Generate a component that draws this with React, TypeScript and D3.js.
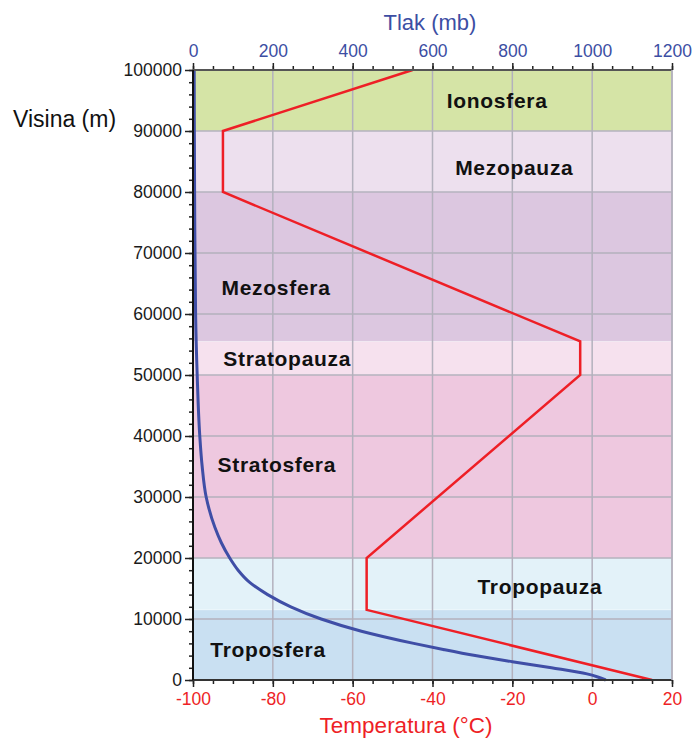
import React, { useEffect, useRef } from "react";
import * as d3 from "d3";

// Temperature profile (°C vs altitude m)
const tempAlt = [0, 11500, 20000, 50000, 55500, 80000, 90000, 100000];
const tempVal = [15, -56.5, -56.5, -3, -3, -92.5, -92.5, -45];

// Pressure profile (mb vs altitude m)
const presAlt = [0, 500, 1000, 2000, 3000, 4000, 5000, 6000, 8000, 10000, 12000, 14000, 16000, 18000, 20000, 22500, 25000, 30000, 35000, 40000, 50000, 60000, 80000, 100000];
const presVal = [1034, 1014, 987, 898, 800, 707, 627, 553, 422, 321, 245, 187, 142, 113, 92, 71, 55, 33, 23, 17, 10.5, 6.5, 4, 3];

// Atmospheric layers
const layerNames = ["Troposfera", "Tropopauza", "Stratosfera", "Stratopauza", "Mezosfera", "Mezopauza", "Ionosfera"];
const layerFrom = [0, 11500, 20000, 50000, 55500, 80000, 90000];
const layerTo = [11500, 20000, 50000, 55500, 80000, 90000, 100000];
const layerColors = ["#c9e0f2", "#e3f2f9", "#eec8df", "#f6e1ee", "#dcc7e0", "#ede0ee", "#d5e4a6"];
const labelTemp = [-81.2, -13.1, -79, -76.4, -79.2, -19.5, -23.8];
const labelAlt = [5000, 15300, 35300, 52750, 64300, 84000, 95000];

const tempTicks = [-100, -80, -60, -40, -20, 0, 20];
const presTicks = [0, 200, 400, 600, 800, 1000, 1200];
const altTicks = [0, 10000, 20000, 30000, 40000, 50000, 60000, 70000, 80000, 90000, 100000];

const BLUE = "#3c4ea3";
const RED = "#ee1f26";
const FONT = "'Liberation Sans', Arial, sans-serif";

export default function App() {
  const ref = useRef<SVGSVGElement>(null);

  useEffect(() => {
    const svg = d3.select(ref.current);
    svg.selectAll("*").remove();

    const L = 193, R = 672, T = 70, B = 680;
    const xT = d3.scaleLinear().domain([-100, 20]).range([L, R]);
    const xP = d3.scaleLinear().domain([0, 1200]).range([L, R]);
    const y = d3.scaleLinear().domain([0, 100000]).range([B, T]);

    // bands
    svg.append("g").selectAll("rect").data(layerNames).join("rect")
      .attr("x", L).attr("width", R - L)
      .attr("y", (_, i) => y(layerTo[i]))
      .attr("height", (_, i) => y(layerFrom[i]) - y(layerTo[i]))
      .attr("fill", (_, i) => layerColors[i]);

    // band boundaries (faint)
    svg.append("g").selectAll("line").data(layerFrom.slice(1)).join("line")
      .attr("x1", L).attr("x2", R)
      .attr("y1", d => y(d)).attr("y2", d => y(d))
      .attr("stroke", "#ffffff").attr("stroke-opacity", 0.35).attr("stroke-width", 1);

    // grid
    const grid = svg.append("g").attr("stroke", "#b3b1bd").attr("stroke-width", 1.5);
    grid.selectAll("line.v").data(tempTicks.slice(1)).join("line").attr("class", "v")
      .attr("x1", d => xT(d)).attr("x2", d => xT(d)).attr("y1", T).attr("y2", B);
    grid.selectAll("line.h").data(altTicks.slice(1, -1)).join("line").attr("class", "h")
      .attr("x1", L).attr("x2", R).attr("y1", d => y(d)).attr("y2", d => y(d));

    // labels
    svg.append("g").selectAll("text").data(layerNames).join("text")
      .attr("x", (_, i) => xT(labelTemp[i]))
      .attr("y", (_, i) => y(labelAlt[i]))
      .attr("dy", "0.36em")
      .attr("text-anchor", "middle")
      .attr("font-family", FONT).attr("font-weight", "bold").attr("font-size", 21)
      .attr("letter-spacing", 0.7)
      .attr("fill", "#111")
      .text(d => d);

    // pressure line
    const pLine = d3.line<number>()
      .x((_, i) => xP(presVal[i]))
      .y(d => y(d))
      .curve(d3.curveMonotoneY);
    svg.append("path").datum(presAlt).attr("d", pLine)
      .attr("fill", "none").attr("stroke", "#3f4ea6").attr("stroke-width", 3);

    // temperature line
    const tLine = d3.line<number>()
      .x((_, i) => xT(tempVal[i]))
      .y(d => y(d));
    svg.append("path").datum(tempAlt).attr("d", tLine)
      .attr("fill", "none").attr("stroke", RED).attr("stroke-width", 2.5)
      .attr("stroke-linejoin", "miter");

    // axes
    const styleAxis = (g: any, color: string) => {
      g.select(".domain").remove();
      g.selectAll("text").attr("font-family", FONT).attr("font-size", 17.5).attr("fill", color);
      g.selectAll("line").attr("stroke", "#222").attr("stroke-width", 1.5);
    };
    const fmt = (d: any) => String(d);

    // minor ticks
    svg.append("g").attr("transform", `translate(${L},0)`)
      .call(d3.axisLeft(y).tickValues(d3.range(0, 100001, 2000)).tickSize(4).tickFormat(() => ""))
      .call((g: any) => styleAxis(g, "#111"));
    svg.append("g").attr("transform", `translate(0,${T})`)
      .call(d3.axisTop(xP).tickValues(d3.range(0, 1201, 50)).tickSize(4).tickFormat(() => ""))
      .call((g: any) => styleAxis(g, BLUE));
    svg.append("g").attr("transform", `translate(0,${B})`)
      .call(d3.axisBottom(xT).tickValues(d3.range(-100, 21, 5)).tickSize(4).tickFormat(() => ""))
      .call((g: any) => styleAxis(g, RED));

    // major ticks
    svg.append("g").attr("transform", `translate(${L},0)`)
      .call(d3.axisLeft(y).tickValues(altTicks).tickSize(8).tickPadding(3).tickFormat(fmt))
      .call((g: any) => styleAxis(g, "#1a1a1a"));
    svg.append("g").attr("transform", `translate(0,${T})`)
      .call(d3.axisTop(xP).tickValues(presTicks).tickSize(7).tickPadding(6).tickFormat(fmt))
      .call((g: any) => styleAxis(g, BLUE));
    svg.append("g").attr("transform", `translate(0,${B})`)
      .call(d3.axisBottom(xT).tickValues(tempTicks).tickSize(7).tickPadding(6).tickFormat(fmt))
      .call((g: any) => styleAxis(g, RED));

    // axis lines
    svg.append("line").attr("x1", L).attr("x2", R).attr("y1", T).attr("y2", T).attr("stroke", "#555").attr("stroke-width", 2);
    svg.append("line").attr("x1", L).attr("x2", R).attr("y1", B).attr("y2", B).attr("stroke", "#333").attr("stroke-width", 2);
    svg.append("line").attr("x1", L).attr("x2", L).attr("y1", T).attr("y2", B).attr("stroke", "#111").attr("stroke-width", 2);
    svg.append("line").attr("x1", R).attr("x2", R).attr("y1", T).attr("y2", B).attr("stroke", "#b3b1bd").attr("stroke-width", 1.5);

    // titles
    svg.append("text").attr("x", 430).attr("y", 30).attr("text-anchor", "middle")
      .attr("font-family", FONT).attr("font-size", 22).attr("fill", BLUE).text("Tlak (mb)");
    svg.append("text").attr("x", 13).attr("y", 127).attr("text-anchor", "start")
      .attr("font-family", FONT).attr("font-size", 23).attr("fill", "#111").text("Visina (m)");
    svg.append("text").attr("x", 406).attr("y", 733).attr("text-anchor", "middle")
      .attr("font-family", FONT).attr("font-size", 22.5).attr("fill", RED).text("Temperatura (°C)");
  }, []);

  return (
    <svg ref={ref} width={694} height={740}
      style={{ position: "absolute", left: 0, top: 0, background: "#fff" }} />
  );
}
